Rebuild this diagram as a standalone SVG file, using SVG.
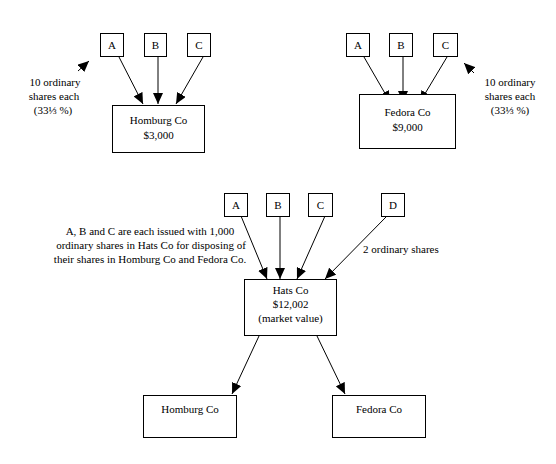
<svg xmlns="http://www.w3.org/2000/svg" width="556" height="464" viewBox="0 0 556 464">
<style>
.box{fill:#fff;stroke:#000;stroke-width:1}
.t{font-family:"Liberation Serif","Times New Roman",serif;font-size:11px;fill:#000}
.c{text-anchor:middle}
.ln{stroke:#000;stroke-width:1;fill:none}
</style>
<defs>
<marker id="ah" markerUnits="userSpaceOnUse" markerWidth="12" markerHeight="10" refX="11" refY="5" orient="auto">
<path d="M0,0 L11,5 L0,10 Z" fill="#000"/>
</marker>
</defs>
<rect width="556" height="464" fill="#fff"/>
<g id="connectors">
<line class="ln" x1="119" y1="57" x2="143" y2="104" marker-end="url(#ah)"/>
<line class="ln" x1="158" y1="57" x2="158" y2="104" marker-end="url(#ah)"/>
<line class="ln" x1="203" y1="57" x2="176" y2="104" marker-end="url(#ah)"/>
<line class="ln" x1="78" y1="71" x2="89" y2="61" marker-end="url(#ah)"/>
<line class="ln" x1="364" y1="57" x2="390" y2="102" marker-end="url(#ah)"/>
<line class="ln" x1="403" y1="57" x2="403" y2="102" marker-end="url(#ah)"/>
<line class="ln" x1="447" y1="57" x2="420" y2="102" marker-end="url(#ah)"/>
<line class="ln" x1="474" y1="73" x2="464" y2="63" marker-end="url(#ah)"/>
<line class="ln" x1="241" y1="216" x2="267" y2="279" marker-end="url(#ah)"/>
<line class="ln" x1="280" y1="216" x2="280" y2="279" marker-end="url(#ah)"/>
<line class="ln" x1="325" y1="216" x2="297" y2="279" marker-end="url(#ah)"/>
<line class="ln" x1="386" y1="217" x2="325" y2="279" marker-end="url(#ah)"/>
<line class="ln" x1="259" y1="336" x2="232" y2="394" marker-end="url(#ah)"/>
<line class="ln" x1="317" y1="336" x2="345" y2="394" marker-end="url(#ah)"/>
</g>
<g id="tl-A"><rect class="box" x="100.5" y="33.5" width="23" height="23"/><text class="t c" x="112" y="49">A</text></g>
<g id="tl-B"><rect class="box" x="144.5" y="33.5" width="22" height="23"/><text class="t c" x="155.5" y="49">B</text></g>
<g id="tl-C"><rect class="box" x="187.5" y="33.5" width="23" height="23"/><text class="t c" x="199" y="49">C</text></g>
<g id="homburg-top"><rect class="box" x="112.5" y="105.5" width="92" height="47"/><text class="t c" x="158.5" y="124">Homburg Co</text><text class="t c" x="158.5" y="139">$3,000</text></g>
<g id="note-left"><text class="t c" x="55" y="86">10 ordinary</text><text class="t c" x="54" y="100">shares each</text><text class="t c" x="53" y="114">(33⅓ %)</text></g>
<g id="tr-A"><rect class="box" x="346.5" y="33.5" width="23" height="23"/><text class="t c" x="358" y="49">A</text></g>
<g id="tr-B"><rect class="box" x="389.5" y="33.5" width="23" height="23"/><text class="t c" x="401" y="49">B</text></g>
<g id="tr-C"><rect class="box" x="433.5" y="33.5" width="24" height="23"/><text class="t c" x="445.5" y="49">C</text></g>
<g id="fedora-top"><rect class="box" x="359.5" y="94.5" width="96" height="54"/><text class="t c" x="407.5" y="116">Fedora Co</text><text class="t c" x="407.5" y="131">$9,000</text></g>
<g id="note-right"><text class="t c" x="510" y="86">10 ordinary</text><text class="t c" x="510" y="100">shares each</text><text class="t c" x="510" y="114">(33⅓ %)</text></g>
<g id="b-A"><rect class="box" x="224.5" y="193.5" width="23" height="23"/><text class="t c" x="236" y="209">A</text></g>
<g id="b-B"><rect class="box" x="266.5" y="193.5" width="23" height="23"/><text class="t c" x="278" y="209">B</text></g>
<g id="b-C"><rect class="box" x="308.5" y="193.5" width="24" height="23"/><text class="t c" x="320.5" y="209">C</text></g>
<g id="b-D"><rect class="box" x="381.5" y="193.5" width="23" height="23"/><text class="t c" x="393" y="209">D</text></g>
<g id="note-abc"><text class="t c" x="150" y="235">A, B and C are each issued with 1,000</text><text class="t c" x="151" y="249">ordinary shares in Hats Co for disposing of</text><text class="t c" x="150" y="263">their shares in Homburg Co and Fedora Co.</text></g>
<text class="t" x="363" y="253">2 ordinary shares</text>
<g id="hats"><rect class="box" x="244.5" y="279.5" width="92" height="56"/><text class="t c" x="290.5" y="294">Hats Co</text><text class="t c" x="290.5" y="308">$12,002</text><text class="t c" x="290.5" y="322">(market value)</text></g>
<g id="homburg-bottom"><rect class="box" x="143.5" y="395.5" width="93" height="42"/><text class="t c" x="190" y="413">Homburg Co</text></g>
<g id="fedora-bottom"><rect class="box" x="332.5" y="395.5" width="93" height="42"/><text class="t c" x="379" y="413">Fedora Co</text></g>
</svg>
